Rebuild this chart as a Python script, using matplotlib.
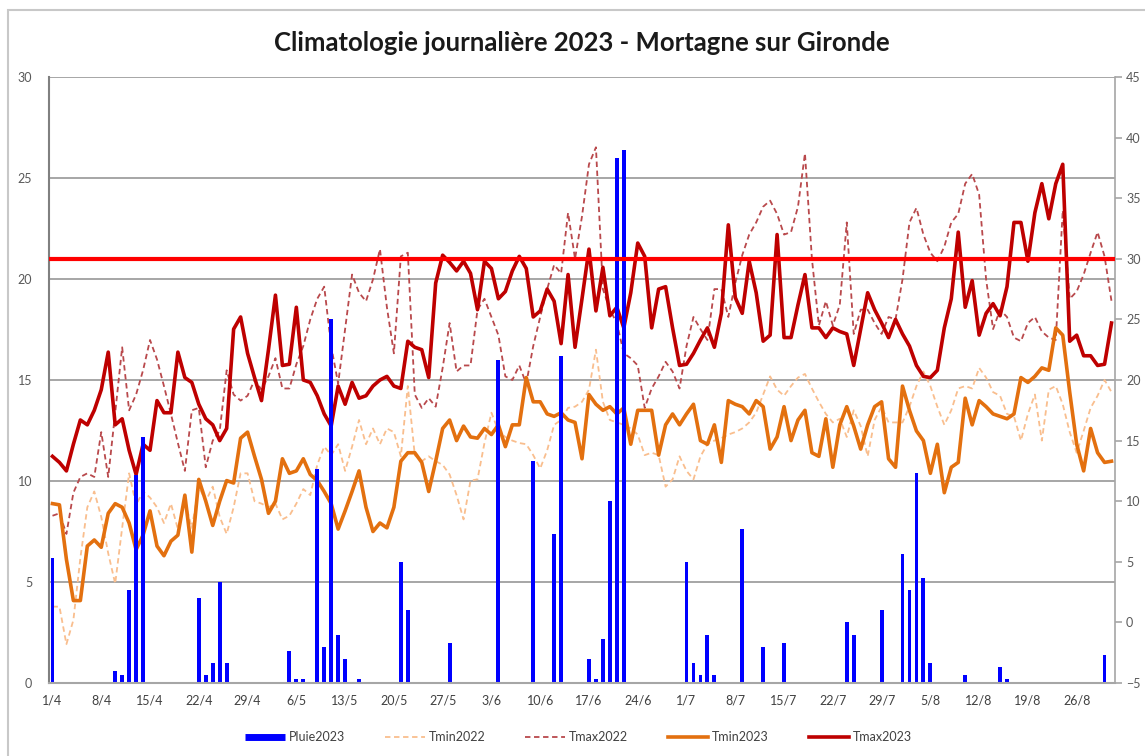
import numpy as np
import pandas as pd
import matplotlib.pyplot as plt
from matplotlib.lines import Line2D
from matplotlib.patches import Rectangle
from matplotlib.transforms import blended_transform_factory

plt.rcParams['font.family'] = ['Lato', 'DejaVu Sans']

# ------------------------------------------------------------------
# Données : 1/4 -> 31/8
# ------------------------------------------------------------------
jours = pd.date_range('2023-04-01', '2023-08-31', freq='D')

# pluie (mm), axe de gauche
pluie2023 = [
    6.2, 0, 0, 0, 0, 0, 0, 0, 0, 0.6,
    0.4, 4.6, 10.3, 12.2, 0, 0, 0, 0, 0, 0,
    0, 4.2, 0.4, 1.0, 5.0, 1.0, 0, 0, 0, 0,
    0, 0, 0, 0, 1.6, 0.2, 0.2, 0, 10.6, 1.8,
    18.0, 2.4, 1.2, 0, 0.2, 0, 0, 0, 0, 0,
    6.0, 3.6, 0, 0, 0, 0, 0, 2.0, 0, 0,
    0, 0, 0, 0, 16.0, 0, 0, 0, 0, 11.0,
    0, 0, 7.4, 16.2, 0, 0, 0, 1.2, 0.2, 2.2,
    9.0, 26.0, 26.4, 0, 0, 0, 0, 0, 0, 0,
    0, 6.0, 1.0, 0.4, 2.4, 0.4, 0, 0, 0, 7.6,
    0, 0, 1.8, 0, 0, 2.0, 0, 0, 0, 0,
    0, 0, 0, 0, 3.0, 2.4, 0, 0, 0, 3.6,
    0, 0, 6.4, 4.6, 10.4, 5.2, 1.0, 0, 0, 0,
    0, 0.4, 0, 0, 0, 0, 0.8, 0.2, 0, 0,
    0, 0, 0, 0, 0, 0, 0, 0, 0, 0,
    0, 1.4, 0]

# températures (°C), axe de droite
tmin2022 = [
    1.3, 1.3, -1.8, 0.2, 5.3, 9.5, 10.8, 8.7, 5.7, 3.2,
    7.8, 12.3, 9.7, 10.8, 10.3, 9.5, 8.2, 9.8, 7.7, 10.0,
    7.8, 11.2, 10.0, 11.2, 8.7, 7.3, 9.5, 12.3, 12.3, 10.0,
    9.8, 9.5, 9.8, 8.5, 8.8, 9.8, 11.0, 10.5, 13.0, 14.5,
    13.8, 14.7, 12.5, 14.5, 16.7, 14.7, 16.0, 14.7, 16.0, 15.7,
    13.7, 19.5, 13.8, 13.3, 13.7, 13.3, 13.0, 12.2, 10.5, 8.5,
    11.7, 11.8, 14.8, 17.3, 15.8, 15.3, 15.0, 14.8, 14.7, 13.8,
    12.7, 14.2, 16.3, 16.7, 17.7, 17.8, 18.2, 19.2, 22.5, 18.2,
    16.7, 16.5, 16.3, 16.0, 15.5, 13.8, 14.0, 13.8, 11.2, 11.8,
    13.7, 12.5, 11.8, 13.7, 14.7, 15.0, 15.2, 15.5, 15.7, 16.0,
    16.5, 17.3, 18.8, 20.3, 19.2, 18.7, 19.5, 20.2, 20.5, 19.3,
    18.2, 17.2, 16.5, 16.8, 15.3, 17.5, 16.2, 13.7, 16.7, 17.8,
    16.5, 16.5, 16.5, 17.8, 19.5, 20.7, 19.5, 17.8, 16.3, 17.5,
    19.3, 19.5, 19.3, 21.0, 20.2, 19.0, 18.7, 17.2, 17.0, 15.0,
    17.2, 18.8, 15.0, 19.2, 19.5, 18.0, 15.7, 14.0, 15.8, 17.7,
    18.7, 20.0, 19.0]

tmax2022 = [
    8.8, 9.0, 7.3, 10.7, 12.0, 12.3, 12.0, 15.7, 12.0, 17.3,
    22.7, 17.5, 18.8, 20.8, 23.3, 21.7, 19.5, 17.2, 14.8, 12.5,
    17.5, 17.7, 12.8, 15.0, 15.8, 20.8, 18.8, 18.3, 18.7, 20.0,
    19.2, 20.3, 21.8, 19.3, 19.3, 21.3, 22.8, 25.0, 26.7, 27.7,
    22.8, 19.7, 24.2, 28.7, 27.2, 26.5, 28.3, 30.8, 26.0, 22.2,
    30.2, 30.5, 18.8, 17.7, 18.5, 17.8, 21.0, 24.7, 20.7, 21.2,
    21.2, 25.8, 26.7, 25.2, 23.7, 20.3, 20.0, 21.2, 19.7, 22.8,
    25.2, 27.5, 29.5, 28.8, 33.8, 30.0, 33.5, 37.8, 39.2, 27.5,
    25.8, 24.7, 22.2, 21.8, 21.2, 17.7, 19.3, 20.3, 21.5, 20.7,
    19.3, 22.8, 25.2, 24.2, 23.3, 27.5, 27.5, 25.2, 28.0, 30.3,
    32.0, 33.0, 34.3, 34.8, 33.7, 32.0, 32.2, 34.3, 38.7, 30.0,
    24.5, 26.5, 24.5, 26.2, 33.0, 23.8, 25.8, 25.8, 24.7, 23.8,
    25.2, 25.0, 28.3, 33.0, 34.2, 32.0, 30.5, 29.8, 31.0, 33.0,
    33.7, 36.2, 37.0, 35.3, 28.3, 24.2, 25.8, 25.2, 23.5, 23.2,
    24.7, 25.2, 24.0, 23.5, 23.3, 34.0, 26.7, 27.3, 28.7, 30.5,
    32.2, 30.2, 26.5]

tmin2023 = [
    9.8, 9.7, 5.2, 1.8, 1.8, 6.3, 6.8, 6.2, 9.0, 9.8,
    9.5, 8.2, 6.0, 7.2, 9.2, 6.3, 5.5, 6.7, 7.2, 10.5,
    5.8, 11.8, 10.0, 8.0, 10.0, 11.7, 11.5, 15.2, 15.7, 13.7,
    11.8, 9.0, 10.0, 13.5, 12.3, 12.5, 13.5, 12.2, 11.7, 10.8,
    9.8, 7.7, 9.2, 10.8, 12.5, 9.5, 7.5, 8.2, 7.8, 9.5,
    13.3, 14.0, 14.0, 13.2, 10.8, 13.3, 16.0, 16.7, 15.0, 16.2,
    15.3, 15.2, 16.0, 15.5, 16.3, 14.5, 16.3, 16.3, 20.2, 18.2,
    18.2, 17.2, 17.0, 17.3, 16.7, 16.5, 13.5, 18.8, 18.0, 17.5,
    17.8, 17.2, 17.7, 14.7, 17.5, 17.5, 17.5, 13.8, 16.3, 17.2,
    16.3, 17.2, 18.0, 15.0, 14.7, 16.3, 13.2, 18.3, 18.0, 17.8,
    17.2, 18.3, 17.8, 14.3, 15.3, 17.8, 15.0, 16.7, 17.5, 14.0,
    13.7, 16.8, 12.8, 16.3, 17.8, 16.2, 14.3, 16.3, 17.8, 18.2,
    13.5, 12.8, 19.5, 17.5, 15.8, 15.0, 12.3, 14.7, 10.7, 12.8,
    13.2, 18.5, 16.3, 18.3, 17.8, 17.2, 17.0, 16.8, 17.2, 20.2,
    19.8, 20.3, 21.0, 20.8, 24.3, 23.7, 19.0, 14.7, 12.5, 16.0,
    14.0, 13.2, 13.3]

tmax2023 = [
    13.7, 13.2, 12.5, 14.7, 16.7, 16.3, 17.5, 19.2, 22.3, 16.3,
    16.8, 14.2, 12.2, 14.7, 14.2, 18.3, 17.3, 17.3, 22.3, 20.2,
    19.8, 18.0, 16.8, 16.3, 15.0, 16.0, 24.2, 25.2, 22.2, 20.2,
    18.3, 22.5, 27.0, 21.2, 21.3, 26.0, 20.0, 19.8, 18.7, 17.2,
    16.2, 19.5, 18.0, 19.8, 18.5, 18.7, 19.5, 20.0, 20.3, 19.5,
    19.3, 23.2, 22.7, 22.5, 20.2, 28.0, 30.3, 29.7, 29.0, 29.8,
    28.8, 25.8, 29.8, 29.2, 26.7, 27.3, 29.0, 30.2, 29.2, 25.2,
    25.7, 27.5, 26.5, 23.0, 28.7, 22.7, 26.7, 30.8, 25.7, 29.3,
    25.3, 26.0, 24.3, 27.2, 31.3, 30.2, 24.3, 27.5, 27.7, 24.3,
    21.2, 21.3, 22.2, 23.3, 24.3, 22.7, 25.5, 32.8, 26.8, 25.5,
    29.8, 27.2, 23.2, 23.7, 32.0, 23.5, 23.5, 26.2, 28.7, 24.3,
    24.3, 23.5, 24.3, 24.0, 23.8, 21.2, 24.2, 27.2, 25.8, 24.7,
    23.5, 25.0, 23.8, 22.8, 21.2, 20.3, 20.2, 20.8, 24.3, 26.7,
    32.2, 26.0, 28.2, 23.7, 25.5, 26.3, 25.3, 27.7, 33.0, 33.0,
    29.8, 33.8, 36.2, 33.3, 36.2, 37.8, 23.2, 23.7, 22.0, 22.0,
    21.2, 21.3, 24.7]

seuil = 30  # ligne des 30 °C

# ------------------------------------------------------------------
# Graphique
# ------------------------------------------------------------------
fig = plt.figure(figsize=(11.45, 7.56), dpi=100)
fig.patches.append(Rectangle((8 / 1145, -0.05), 1.1, 1.05 - 10 / 756,
                             transform=fig.transFigure, fill=False,
                             edgecolor='#c8c8c8', lw=1.5))

ax = fig.add_axes([49 / 1145, 1 - 683 / 756, 1066 / 1145, 606 / 756])
ax2 = ax.twinx()
# les barres passent devant les courbes
ax.set_zorder(ax2.get_zorder() + 1)
ax.patch.set_visible(False)

x = np.arange(len(jours))
ax.set_xlim(-0.5, len(jours) - 0.5)
ax.set_ylim(0, 30)
ax2.set_ylim(-5, 45)
ax.set_yticks(np.arange(0, 31, 5))
ax2.set_yticks(np.arange(-5, 46, 5))

# grille horizontale (graduations de gauche) derrière les courbes
grille = blended_transform_factory(ax2.transAxes, ax.transData)
for v in ax.get_yticks()[1:]:
    ax2.add_line(Line2D([0, 1], [v, v], transform=grille, color='#a6a6a6',
                        lw=1.4, zorder=0))

ax2.plot(x, tmin2022, color='#F9BE8E', lw=1.3, ls=(0, (3, 2)), label='Tmin2022')
ax2.plot(x, tmax2022, color='#B9494C', lw=1.3, ls=(0, (3, 2)), label='Tmax2022')
ax2.plot(x, tmin2023, color='#E3700F', lw=2.6, label='Tmin2023')
ax2.plot(x, tmax2023, color='#BE0000', lw=2.6, label='Tmax2023')

ax.bar(x, pluie2023, width=0.55, color='#0000FF', label='Pluie2023')

seuil_tr = blended_transform_factory(ax.transAxes, ax2.transData)
ax.add_line(Line2D([0, 1], [seuil, seuil], transform=seuil_tr, color='#FF0000',
                   lw=3, zorder=5))

# axes
ticks = x[::7]
ax.set_xticks(ticks)
ax.set_xticklabels([f'{d.day}/{d.month}' for d in jours[::7]])
ax.tick_params(axis='x', length=0, pad=8, labelsize=9, labelcolor='#404040')
ax.tick_params(axis='y', length=0, pad=12, labelsize=9, labelcolor='#595959')
ax2.tick_params(axis='y', length=5, width=1.2, color='#a6a6a6', pad=3,
                labelsize=9, labelcolor='#595959')

for s in ['top', 'right']:
    ax.spines[s].set_visible(False)
for s in ['top', 'left', 'bottom']:
    ax2.spines[s].set_visible(False)
ax.spines['left'].set_color('#808080')
ax.spines['left'].set_linewidth(1.5)
ax.spines['bottom'].set_color('#a6a6a6')
ax.spines['bottom'].set_linewidth(1.5)
ax2.spines['right'].set_color('#a6a6a6')
ax2.spines['right'].set_linewidth(1.2)

fig.text(0.508, 0.943, 'Climatologie journalière 2023 - Mortagne sur Gironde',
         ha='center', va='center', fontsize=18.5, fontweight='bold', color='#1a1a1a')

handles = [
    Line2D([], [], color='#0000FF', lw=5, solid_capstyle='butt'),
    Line2D([], [], color='#F9BE8E', lw=1.3, ls=(0, (3, 2))),
    Line2D([], [], color='#B9494C', lw=1.3, ls=(0, (3, 2))),
    Line2D([], [], color='#E3700F', lw=2.6),
    Line2D([], [], color='#BE0000', lw=2.6),
]
labels = ['Pluie2023', 'Tmin2022', 'Tmax2022', 'Tmin2023', 'Tmax2023']
fig.legend(handles, labels, loc='center', bbox_to_anchor=(0.505, 0.025),
           ncol=5, frameon=False, fontsize=9, handlelength=3.2,
           handletextpad=0.3, columnspacing=3.2, labelcolor='#404040')

fig.savefig('out.png', dpi=100)
